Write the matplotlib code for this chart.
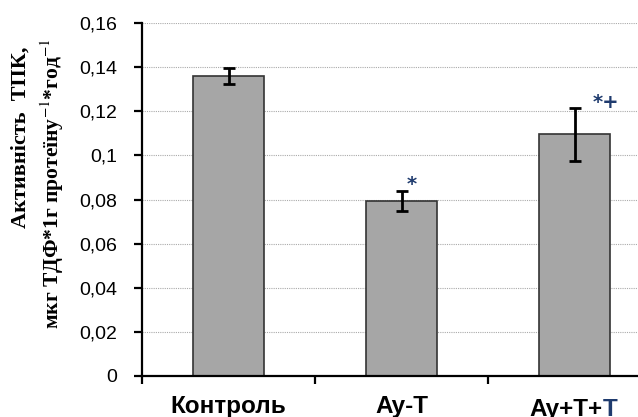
import matplotlib.pyplot as plt
import numpy as np

# data
groups = ['Контроль', 'Ay-T', 'Ay+T+']
means = [0.136, 0.0795, 0.1095]
errs = [0.0035, 0.0045, 0.012]
marks = ['', '*', '*+']

plt.rcParams['mathtext.fontset'] = 'stix'

fig = plt.figure(figsize=(6.38, 4.17), dpi=100)
ax = fig.add_axes([142/638, 41/417, 1 - 142/638, 353/417])

x = np.arange(len(groups))
ax.bar(x, means, width=0.405, color='#a6a6a6', edgecolor='#333333', linewidth=1.2, zorder=2)
ax.errorbar(x, means, yerr=errs, fmt='none', ecolor='black', elinewidth=2,
            capsize=4.5, capthick=2, zorder=3)

# significance marks
ax.text(x[1] + 0.06, means[1] + errs[1] - 0.0015, marks[1], color='#1f3b6e',
        fontsize=14, fontweight='bold', ha='center', va='bottom')
ax.text(x[2] + 0.18, means[2] + errs[2] - 0.0018, marks[2], color='#1f3b6e',
        fontsize=14, fontweight='bold', ha='center', va='bottom')

ax.set_ylim(0, 0.16)
ax.set_yticks(np.arange(0, 0.161, 0.02))
ax.set_yticklabels(['0', '0,02', '0,04', '0,06', '0,08', '0,1', '0,12', '0,14', '0,16'])
ax.set_xlim(-0.5, (638 - 142) / 173 - 0.5)
ax.set_xticks([-0.5, 0.5, 1.5])
ax.set_xticklabels([])
ax.yaxis.grid(True, linestyle=(0, (1, 1)), color='#aaaaaa', linewidth=0.8, zorder=0)
ax.set_axisbelow(True)

for s in ['top', 'right']:
    ax.spines[s].set_visible(False)
ax.spines['left'].set_linewidth(1.6)
ax.spines['bottom'].set_linewidth(1.6)
ax.tick_params(axis='both', direction='out', length=6, width=1.6)
ax.tick_params(axis='y', labelsize=14, pad=12, colors='black')
for lab in ax.get_yticklabels():
    lab.set_fontfamily('Liberation Sans')

offs = [-0.0085, -0.0085, -0.0098]
for xi, g, o in zip(x, groups, offs):
    if g == 'Ay+T+':
        t = ax.text(xi - 0.05, o, g, ha='center', va='top', fontsize=17.5, fontweight='bold',
                    family='Liberation Sans', clip_on=False)
        ax.annotate('T', xy=(1, 0), xycoords=t, ha='left', va='bottom', fontsize=17.5,
                    fontweight='bold', family='Liberation Sans', color='#1f3b6e')
    else:
        ax.text(xi, o, g, ha='center', va='top', fontsize=17.5, fontweight='bold',
                family='Liberation Sans', clip_on=False)

fig.text(21/638, 1 - 46/417, 'Активність  ТПК,', rotation=90, ha='center', va='top',
         fontsize=16, fontweight='bold', family='Liberation Serif')
fig.text(52/638, 1 - 38/417, 'мкг ТДФ*1г протеїну$^{-1}$*год$^{-1}$', rotation=90,
         ha='center', va='top', fontsize=15.5, fontweight='bold',
         family='Liberation Serif')

fig.savefig('out.png', dpi=100)
